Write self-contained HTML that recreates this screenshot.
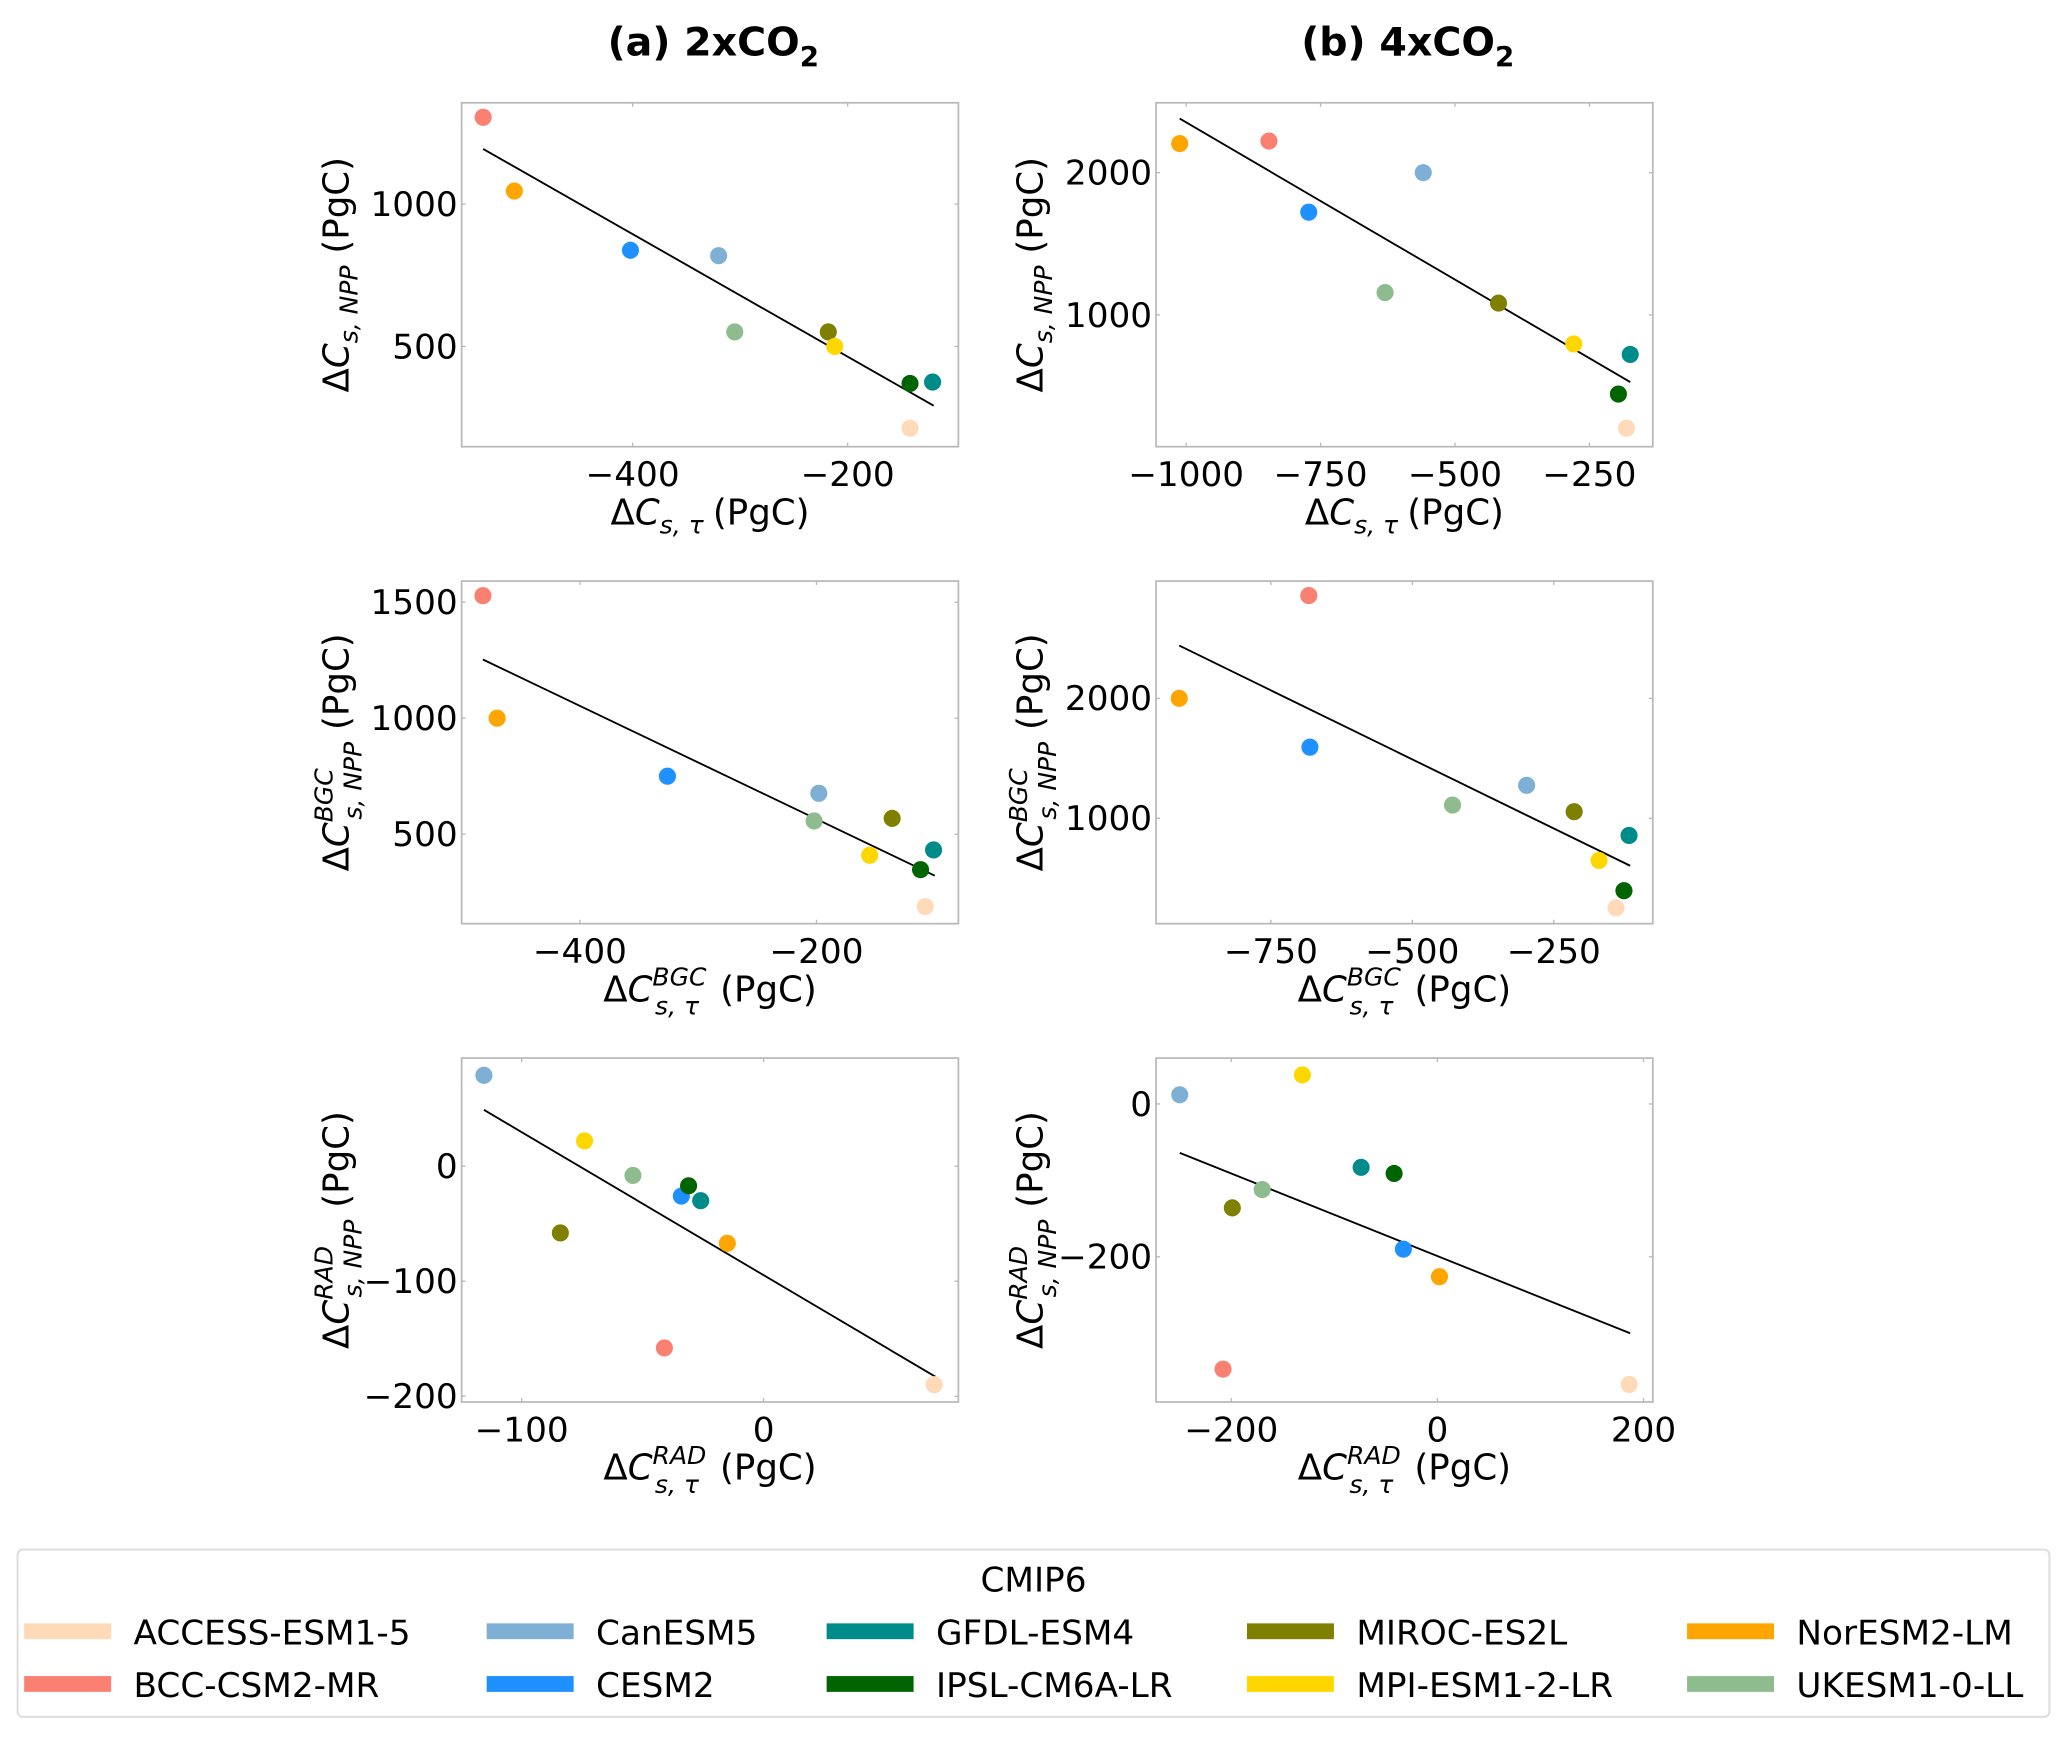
<!DOCTYPE html>
<html><head><meta charset="utf-8"><style>
html,body{margin:0;padding:0;background:#fff;}
svg{display:block;font-family:"DejaVu Sans","Liberation Sans",sans-serif;}
</style></head><body>
<svg id="fig" width="2067" height="1738" viewBox="0 0 1568 1319" xmlns="http://www.w3.org/2000/svg">
<text x="541" y="42" font-size="30" font-weight="bold" text-anchor="middle">(a) 2xCO<tspan font-size="21" dy="8">2</tspan></text>
<text x="1068" y="42" font-size="30" font-weight="bold" text-anchor="middle">(b) 4xCO<tspan font-size="21" dy="8">2</tspan></text>
<g id="panels"></g>
<g>
<rect x="13" y="1176" width="1542" height="127" rx="4" fill="#fff" stroke="#ddd" stroke-width="1.5"/>
<text x="784" y="1208" font-size="26" text-anchor="middle">CMIP6</text>
<g id="legend-items"></g>
</g>
</svg>
<script>
const models = ["ACCESS-ESM1-5","BCC-CSM2-MR","CanESM5","CESM2","GFDL-ESM4","IPSL-CM6A-LR","MIROC-ES2L","MPI-ESM1-2-LR","NorESM2-LM","UKESM1-0-LL"];
const colors = ["#ffdab9","#fa8072","#7eb0d5","#1e90ff","#008b8b","#006400","#808000","#ffd700","#ffa500","#8fbc8f"];

const a1X = [-142,-539,-320,-402,-121,-142,-218,-212,-510,-305];
const a1Y = [213,1305,819,838,375,370,551,500,1046,551];
const a1FitX = [-539,-120];
const a1FitY = [1194,292];
const a1XTicks = [-400,-200];
const a1YTicks = [500,1000];

const b1X = [-181,-846,-559,-772,-174,-196,-419,-279,-1012,-630];
const b1Y = [204,2222,2000,1722,722,444,1083,796,2204,1157];
const b1FitX = [-1012,-174];
const b1FitY = [2380,528];
const b1XTicks = [-1000,-750,-500,-250];
const b1YTicks = [1000,2000];

const a2X = [-108,-482,-198,-326,-101,-112,-136,-155,-470,-202];
const a2Y = [188,1528,676,750,432,347,568,409,1000,557];
const a2FitX = [-482,-100];
const a2FitY = [1253,321];
const a2XTicks = [-400,-200];
const a2YTicks = [500,1000,1500];

const b2X = [-140,-683,-298,-681,-117,-126,-214,-170,-912,-429];
const b2Y = [253,2857,1275,1593,857,396,1055,648,2000,1110];
const b2FitX = [-912,-115];
const b2FitY = [2440,604];
const b2XTicks = [-750,-500,-250];
const b2YTicks = [1000,2000];

const a3X = [70.5,-41,-115.6,-34,-26,-31,-84,-74,-15,-54];
const a3Y = [-190,-158,79,-26,-30,-17,-58,22,-67,-8];
const a3FitX = [-115.6,71];
const a3FitY = [49,-183];
const a3XTicks = [-100,0];
const a3YTicks = [-200,-100,0];

const b3X = [186,-208,-250,-33,-74,-42,-199,-131,2,-170];
const b3Y = [-367,-347,12,-190,-83,-91,-136,38,-226,-112];
const b3FitX = [-250,187];
const b3FitY = [-64,-300];
const b3XTicks = [-200,0,200];
const b3YTicks = [-200,0];

const NS = "http://www.w3.org/2000/svg";
function mk(tag, attrs, parent){const e=document.createElementNS(NS,tag);for(const k in attrs)e.setAttribute(k,attrs[k]);parent.appendChild(e);return e;}
function fmt(v){return v<0?"\u2212"+Math.abs(v):String(v);}

const panels = [
 {id:"a1",box:[350,727,78,339],xd:[-559,-97],yd:[148,1356],X:a1X,Y:a1Y,fx:a1FitX,fy:a1FitY,xt:a1XTicks,yt:a1YTicks,sup:""},
 {id:"b1",box:[877,1254,78,339],xd:[-1056,-132],yd:[74,2491],X:b1X,Y:b1Y,fx:b1FitX,fy:b1FitY,xt:b1XTicks,yt:b1YTicks,sup:""},
 {id:"a2",box:[350,727,441,701],xd:[-500,-80],yd:[114,1591],X:a2X,Y:a2Y,fx:a2FitX,fy:a2FitY,xt:a2XTicks,yt:a2YTicks,sup:"BGC"},
 {id:"b2",box:[877,1254,441,701],xd:[-953,-75],yd:[121,2978],X:b2X,Y:b2Y,fx:b2FitX,fy:b2FitY,xt:b2XTicks,yt:b2YTicks,sup:"BGC"},
 {id:"a3",box:[350,727,803,1064],xd:[-124.8,80.5],yd:[-205,94],X:a3X,Y:a3Y,fx:a3FitX,fy:a3FitY,xt:a3XTicks,yt:a3YTicks,sup:"RAD"},
 {id:"b3",box:[877,1254,803,1064],xd:[-273,209],yd:[-390,60],X:b3X,Y:b3Y,fx:b3FitX,fy:b3FitY,xt:b3XTicks,yt:b3YTicks,sup:"RAD"}
];

const root = document.getElementById("panels");
panels.forEach(p=>{
  const [x0,x1,y0,y1]=p.box;
  const sx=v=>x0+(v-p.xd[0])/(p.xd[1]-p.xd[0])*(x1-x0);
  const sy=v=>y1-(v-p.yd[0])/(p.yd[1]-p.yd[0])*(y1-y0);
  const g=mk("g",{},root);
  
  
  const fr=mk("rect",{x:x0,y:y0,width:x1-x0,height:y1-y0,fill:"#fff",stroke:"#b8b8b8","stroke-width":1.3},g);
  
  
  p.xt.forEach(t=>{
    const x=sx(t);
    mk("line",{x1:x,x2:x,y1:y1,y2:y1-3,stroke:"#b8b8b8"},g);
    mk("line",{x1:x,x2:x,y1:y0,y2:y0+3,stroke:"#b8b8b8"},g);
    const tx=mk("text",{x:x,y:y1+30,"font-size":26,"text-anchor":"middle"},g);
    tx.textContent=fmt(t);
    
    
  });
  p.yt.forEach(t=>{
    const y=sy(t);
    mk("line",{x1:x0,x2:x0+3,y1:y,y2:y,stroke:"#b8b8b8"},g);
    mk("line",{x1:x1,x2:x1-3,y1:y,y2:y,stroke:"#b8b8b8"},g);
    const tx=mk("text",{x:x0-3,y:y+9,"font-size":26,"text-anchor":"end"},g);
    tx.textContent=fmt(t);
    
    
  });
  const ln=mk("line",{x1:sx(p.fx[0]),y1:sy(p.fy[0]),x2:sx(p.fx[1]),y2:sy(p.fy[1]),stroke:"#000","stroke-width":1.4},g);
  
  
  p.X.forEach((v,i)=>{
    const c=mk("circle",{cx:sx(v),cy:sy(p.Y[i]),r:6.5,fill:colors[i]},g);
    
    
  });
  const cx=(x0+x1)/2;
  const xt=mk("text",{x:cx,y:y1+59,"font-size":27,"text-anchor":"middle"},g);
  
  
  if(p.sup){
    xt.innerHTML='\u0394<tspan font-style="italic">C</tspan><tspan font-size="19" font-style="italic" dy="-12">'+p.sup+'</tspan><tspan font-size="19" font-style="italic" dx="-'+(p.sup.length*13)+'" dy="22">s, \u03c4</tspan><tspan dy="-10" dx="16">(PgC)</tspan>';
  } else {
    xt.innerHTML='\u0394<tspan font-style="italic">C</tspan><tspan font-size="19" font-style="italic" dy="7">s, \u03c4</tspan><tspan dy="-7" dx="7">(PgC)</tspan>';
  }
  const ymid=(y0+y1)/2, yx=x0-86;
  const yt=mk("text",{x:0,y:0,"font-size":27,"text-anchor":"middle",transform:"translate("+yx+","+ymid+") rotate(-90)"},g);
  
  
  if(p.sup){
    yt.innerHTML='\u0394<tspan font-style="italic">C</tspan><tspan font-size="19" font-style="italic" dy="-12">'+p.sup+'</tspan><tspan font-size="19" font-style="italic" dx="-'+(p.sup.length*13)+'" dy="22">s, NPP</tspan><tspan dy="-10" dx="9">(PgC)</tspan>';
  } else {
    yt.innerHTML='\u0394<tspan font-style="italic">C</tspan><tspan font-size="19" font-style="italic" dy="7">s, NPP</tspan><tspan dy="-7" dx="9">(PgC)</tspan>';
  }
});

const legCols=[18,369,627,946,1280];
const legRows=[1238,1278];
const lg=document.getElementById("legend-items");
models.forEach((m,i)=>{
  const col=Math.floor(i/2), row=i%2;
  const x=legCols[col], y=legRows[row];
  const it=mk("g",{},lg);
  
  
  mk("rect",{x:x,y:y-6,width:66,height:12,fill:colors[i]},it);
  const t=mk("text",{x:x+83,y:y+10,"font-size":26},it);
  t.textContent=m;
});
</script>
</body></html>
